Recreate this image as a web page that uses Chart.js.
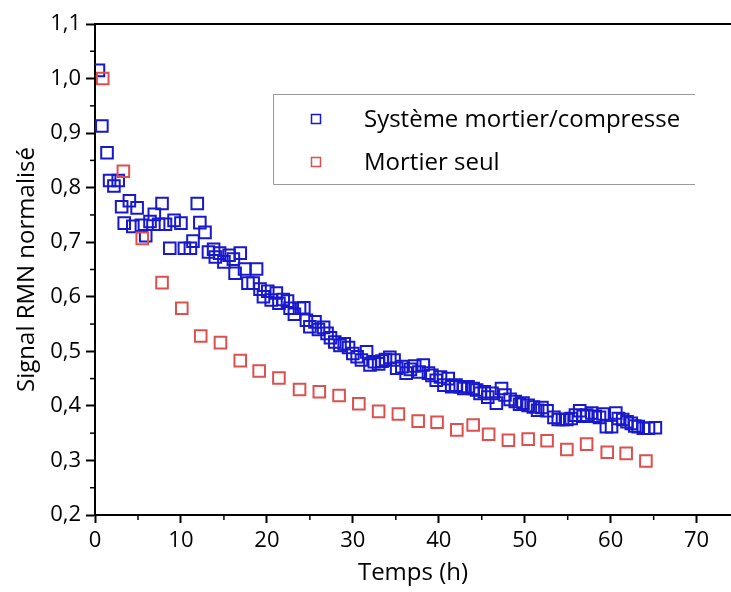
<!DOCTYPE html>
<html>
<head>
<meta charset="utf-8">
<script src="https://cdn.jsdelivr.net/npm/chart.js@4.4.1/dist/chart.umd.min.js"></script>
<style>
  html, body { margin: 0; padding: 0; background: #fff; overflow: hidden; }
  canvas { display: block; }
</style>
</head>
<body>
<canvas id="rmn-chart" width="731" height="592"></canvas>
<script>
// ===== DATA =====
const systemTimes = [
  0.4, 0.8, 1.4, 1.7, 2.2, 2.7, 3.1, 3.4, 4.0, 4.4, 4.9, 5.4, 5.9, 6.4, 6.9,
  7.4, 7.8, 8.2, 8.7, 9.2, 10.0, 10.4, 11.1, 11.4, 11.9, 12.2, 12.8, 13.2,
  13.8, 14.0, 14.5, 15.0, 15.6, 16.1, 16.3, 16.9, 17.4, 17.8, 18.4, 18.8,
  19.2, 19.6, 20.1, 20.5, 21.1, 21.4, 21.9, 22.4, 22.7, 23.2, 23.8, 24.3,
  24.6, 25.0, 25.6, 26.0, 26.6, 27.0, 27.4, 27.9, 28.5, 29.0, 29.5, 30.0,
  30.5, 31.0, 31.6, 32.0, 32.5, 33.0, 33.4, 33.8, 34.3, 34.8, 35.1, 35.7,
  36.2, 36.7, 37.2, 37.7, 38.2, 38.8, 39.2, 39.7, 40.2, 40.6, 41.1, 41.5,
  42.0, 42.5, 42.9, 43.4, 44.0, 44.4, 44.8, 45.3, 45.7, 46.2, 46.7, 47.3,
  47.7, 48.3, 48.9, 49.4, 49.8, 50.4, 51.0, 51.5, 52.0, 52.6, 53.4, 53.9,
  54.4, 54.9, 55.4, 55.9, 56.4, 56.8, 57.2, 57.8, 58.2, 58.7, 59.1, 59.5,
  60.1, 60.6, 60.9, 61.4, 61.9, 62.4, 62.8, 63.2, 63.8, 64.4, 65.2
];
const systemSignal = [
  1.015, 0.913, 0.864, 0.813, 0.803, 0.813, 0.765, 0.735, 0.776, 0.729, 0.763,
  0.731, 0.712, 0.738, 0.751, 0.733, 0.771, 0.733, 0.689, 0.740, 0.735, 0.689,
  0.689, 0.702, 0.771, 0.736, 0.718, 0.682, 0.687, 0.673, 0.680, 0.664, 0.676,
  0.669, 0.643, 0.680, 0.651, 0.625, 0.625, 0.651, 0.614, 0.600, 0.610, 0.594,
  0.607, 0.588, 0.595, 0.592, 0.579, 0.568, 0.579, 0.580, 0.557, 0.545, 0.554,
  0.540, 0.544, 0.533, 0.525, 0.517, 0.511, 0.514, 0.507, 0.496, 0.490, 0.484,
  0.499, 0.475, 0.481, 0.477, 0.482, 0.485, 0.489, 0.484, 0.469, 0.472, 0.460,
  0.467, 0.473, 0.462, 0.475, 0.460, 0.456, 0.447, 0.453, 0.438, 0.450, 0.435,
  0.438, 0.435, 0.432, 0.435, 0.432, 0.429, 0.423, 0.426, 0.416, 0.423, 0.405,
  0.432, 0.420, 0.412, 0.408, 0.403, 0.405, 0.401, 0.398, 0.392, 0.397, 0.391,
  0.379, 0.375, 0.375, 0.375, 0.377, 0.383, 0.391, 0.381, 0.383, 0.387, 0.381,
  0.379, 0.385, 0.362, 0.362, 0.387, 0.377, 0.375, 0.371, 0.368, 0.363, 0.362,
  0.359, 0.359, 0.360
];
const mortarTimes = [
  0.9, 3.3, 5.5, 7.8, 10.1, 12.3, 14.6, 16.9, 19.1, 21.4, 23.8, 26.1, 28.4,
  30.7, 33.0, 35.3, 37.6, 39.8, 42.1, 44.0, 45.8, 48.1, 50.4, 52.6, 54.9,
  57.2, 59.6, 61.8, 64.1
];
const mortarSignal = [
  1.0, 0.83, 0.707, 0.626, 0.579, 0.528, 0.516, 0.483, 0.464, 0.451, 0.430,
  0.426, 0.419, 0.404, 0.390, 0.385, 0.372, 0.370, 0.356, 0.365, 0.348, 0.337,
  0.339, 0.336, 0.320, 0.330, 0.315, 0.313, 0.299
];
const xTickValues = [0, 10, 20, 30, 40, 50, 60, 70];
const yTickValues = [0.2, 0.3, 0.4, 0.5, 0.6, 0.7, 0.8, 0.9, 1.0, 1.1];
const seriesLabels = ["Système mortier/compresse", "Mortier seul"];

// ===== STYLE =====
const FONT = "'Open Sans', 'Noto Sans', sans-serif";
const BLUE = "#1818cc";
const RED = "#dc5050";

function toPoints(xs, ys) {
  return xs.map((x, i) => ({ x: x, y: ys[i] }));
}

// minor ticks halfway between majors, top frame line, legend box
const framePlugin = {
  id: "frame",
  afterDraw(chart) {
    const ctx = chart.ctx;
    const area = chart.chartArea;
    const xs = chart.scales.x;
    const ys = chart.scales.y;
    ctx.save();
    ctx.strokeStyle = "#000";
    ctx.lineWidth = 2;
    ctx.beginPath();
    ctx.moveTo(area.left - 1, area.top);
    ctx.lineTo(area.right, area.top);
    ctx.stroke();

    ctx.lineWidth = 1.5;
    for (let i = 0; i < xTickValues.length; i++) {
      const v = xTickValues[i] + 5;
      if (v > xs.max) break;
      const px = xs.getPixelForValue(v);
      ctx.beginPath();
      ctx.moveTo(px, area.bottom);
      ctx.lineTo(px, area.bottom + 5);
      ctx.stroke();
    }
    for (let i = 0; i < yTickValues.length - 1; i++) {
      const py = ys.getPixelForValue(yTickValues[i] + 0.05);
      ctx.beginPath();
      ctx.moveTo(area.left, py);
      ctx.lineTo(area.left - 5, py);
      ctx.stroke();
    }

    // legend
    const bx = 273, by = 94, bw = 422, bh = 90;
    ctx.strokeStyle = "#9a9a9a";
    ctx.lineWidth = 1;
    ctx.beginPath();
    ctx.moveTo(bx + bw, by + 0.5);
    ctx.lineTo(bx + 0.5, by + 0.5);
    ctx.lineTo(bx + 0.5, by + bh + 0.5);
    ctx.lineTo(bx + bw, by + bh + 0.5);
    ctx.stroke();

    const rows = [
      { label: seriesLabels[0], color: BLUE, y: 119 },
      { label: seriesLabels[1], color: RED, y: 162 },
    ];
    ctx.font = "24px " + FONT;
    ctx.textBaseline = "middle";
    ctx.fillStyle = "#000";
    rows.forEach((r) => {
      ctx.strokeStyle = r.color;
      ctx.lineWidth = 1.5;
      ctx.strokeRect(311.5, r.y - 4.5, 9, 9);
      ctx.fillText(r.label, 364, r.y + 1);
    });
    ctx.restore();
  },
};

// ===== CHART =====
new Chart(document.getElementById("rmn-chart").getContext("2d"), {
  type: "scatter",
  data: {
    datasets: [
      {
        label: seriesLabels[0],
        data: toPoints(systemTimes, systemSignal),
        pointStyle: "rect",
        pointRadius: 8.2,
        borderColor: BLUE,
        backgroundColor: "rgba(0,0,0,0)",
        borderWidth: 2,
        order: 1,
      },
      {
        label: seriesLabels[1],
        data: toPoints(mortarTimes, mortarSignal),
        pointStyle: "rect",
        pointRadius: 8.2,
        borderColor: RED,
        backgroundColor: "rgba(0,0,0,0)",
        borderWidth: 2,
        order: 0,
      },
    ],
  },
  options: {
    responsive: false,
    animation: false,
    layout: {
      autoPadding: false,
      padding: { top: 24, right: 0, left: 0, bottom: 0 },
    },
    plugins: {
      legend: { display: false },
      tooltip: { enabled: false },
    },
    scales: {
      x: {
        type: "linear",
        min: 0,
        max: 74,
        afterBuildTicks: (scale) => {
          scale.ticks = xTickValues.map((v) => ({ value: v }));
        },
        afterFit: (scale) => {
          scale.height = 77;
          scale.paddingLeft = 0;
          scale.paddingRight = 0;
        },
        border: { display: true, color: "#000", width: 2 },
        grid: {
          drawOnChartArea: false,
          drawTicks: true,
          tickLength: 8,
          tickColor: "#000",
          tickWidth: 2,
        },
        ticks: {
          color: "#000",
          padding: 5,
          font: { family: FONT, size: 22 },
          callback: (v) => String(v),
        },
        title: {
          display: true,
          text: "Temps (h)",
          color: "#000",
          font: { family: FONT, size: 24 },
          padding: { top: 0, bottom: 4 },
        },
      },
      y: {
        type: "linear",
        min: 0.2,
        max: 1.1,
        afterBuildTicks: (scale) => {
          scale.ticks = yTickValues.map((v) => ({ value: v }));
        },
        afterFit: (scale) => {
          scale.width = 95;
        },
        border: { display: true, color: "#000", width: 2 },
        grid: {
          drawOnChartArea: false,
          drawTicks: true,
          tickLength: 9,
          tickColor: "#000",
          tickWidth: 2,
        },
        ticks: {
          color: "#000",
          padding: 5,
          font: { family: FONT, size: 22 },
          callback: (v) => v.toFixed(1).replace(".", ","),
        },
        title: {
          display: true,
          text: "Signal RMN normalisé",
          color: "#000",
          font: { family: FONT, size: 24 },
          padding: { top: 13, bottom: 0 },
        },
      },
    },
  },
  plugins: [framePlugin],
});
</script>
</body>
</html>
